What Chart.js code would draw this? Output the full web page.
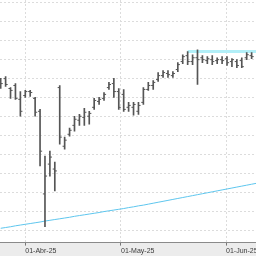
<!DOCTYPE html>
<html>
<head>
<meta charset="utf-8">
<script src="https://cdn.jsdelivr.net/npm/chart.js@4.4.1/dist/chart.umd.min.js"></script>
<style>
  html, body { margin: 0; padding: 0; background: #fff; }
  #wrap { width: 256px; height: 256px; }
</style>
</head>
<body>
<div id="wrap"><canvas id="ohlcChart" width="256" height="256"></canvas></div>
<script>
// daily OHLC bars, one per trading day (index 0 = late March 2025)
const OPEN  = [17.89, 17.99, 17.47, 17.63, 16.90, 17.10, 17.31, 16.95, 16.27, 11.92,
               13.49, 13.23, 17.52, 14.43, 15.06, 15.53, 15.80, 15.95, 16.01, 16.48,
               16.79, 16.95, 17.52, 17.73, 17.31, 17.16, 16.48, 16.48, 16.27, 16.74,
               17.42, 17.63, 17.94, 18.15, 18.26, 18.15, 18.47, 18.89, 19.20, 18.89,
               19.09, 19.09, 18.94, 18.99, 18.94, 18.99, 19.04, 18.89, 18.89, 18.94,
               19.09, 19.20];
const HIGH  = [18.00, 18.10, 17.52, 17.73, 17.31, 17.37, 17.37, 17.00, 16.37, 13.91,
               14.17, 13.60, 17.63, 14.91, 15.38, 16.01, 16.11, 16.42, 16.27, 16.95,
               17.00, 17.26, 17.79, 18.00, 17.47, 17.42, 16.74, 16.74, 16.74, 17.52,
               17.79, 17.89, 18.31, 18.41, 18.41, 18.36, 18.83, 19.25, 19.41, 19.25,
               19.51, 19.20, 19.15, 19.20, 19.09, 19.15, 19.15, 19.04, 18.99, 19.09,
               19.36, 19.36];
const LOW   = [17.47, 17.58, 16.95, 16.90, 16.01, 17.00, 17.05, 16.01, 13.39, 10.19,
               12.86, 12.08, 14.54, 14.28, 14.96, 15.22, 15.53, 15.53, 15.59, 16.37,
               16.63, 16.84, 17.42, 17.00, 16.37, 16.27, 16.27, 16.06, 16.11, 16.63,
               17.37, 17.42, 17.84, 18.05, 18.05, 18.05, 18.36, 18.78, 18.73, 18.73,
               17.68, 18.83, 18.78, 18.73, 18.78, 18.78, 18.68, 18.62, 18.57, 18.57,
               18.99, 19.04];
const CLOSE = [17.73, 17.68, 17.37, 16.95, 16.27, 17.31, 17.26, 16.22, 14.17, 12.86,
               13.86, 13.13, 14.91, 14.75, 15.27, 15.85, 16.01, 16.22, 16.16, 16.84,
               16.90, 17.16, 17.68, 17.31, 16.48, 16.37, 16.58, 16.63, 16.58, 17.42,
               17.63, 17.79, 18.15, 18.31, 18.20, 18.26, 18.73, 19.15, 18.89, 19.09,
               18.99, 18.99, 19.04, 18.89, 18.99, 18.94, 18.83, 18.99, 18.68, 18.62,
               19.25, 19.15];

// long moving average (cyan line)
const MA_LINE = [10.11, 10.15, 10.19, 10.24, 10.28, 10.32, 10.36, 10.40, 10.44, 10.49,
                 10.53, 10.57, 10.61, 10.65, 10.69, 10.74, 10.78, 10.82, 10.86, 10.90,
                 10.94, 10.99, 11.03, 11.07, 11.11, 11.15, 11.20, 11.24, 11.29, 11.33,
                 11.38, 11.43, 11.48, 11.53, 11.58, 11.63, 11.68, 11.73, 11.78, 11.83,
                 11.88, 11.93, 11.98, 12.03, 12.08, 12.13, 12.18, 12.23, 12.28, 12.33,
                 12.38, 12.43, 12.48];

// resistance level drawn from bar 38 to the right edge
const RESIST_LEVEL = 19.42;
const RESIST_RANGE = [38, 52];

const MONTH_TICKS  = [5, 24.45, 45.8];
const MONTH_LABELS = ['01-Abr-25', '01-May-25', '01-Jun-25'];
const Y_GRID = [10, 11, 12, 13, 14, 15, 16, 17, 18, 19, 20, 21, 22];

const X_MIN = -0.14, X_MAX = 51.89;
const Y_MIN = 9.356, Y_MAX = 22.131;

const BAR_COLOR = '#555555';
const GRID_COLOR = '#dcdcdc';

// light grey strip under the time axis
const footerBand = {
  id: 'footerBand',
  beforeDraw(chart) {
    const { ctx, chartArea, width, height } = chart;
    ctx.save();
    ctx.fillStyle = '#ececec';
    ctx.fillRect(0, chartArea.bottom, width, height - chartArea.bottom);
    ctx.restore();
  }
};

const tickSet = (vals, shift) => vals.map((v, i) => ({ x: i + shift, y: v }));

new Chart(document.getElementById('ohlcChart'), {
  type: 'bar',
  data: {
    datasets: [
      {
        type: 'bar',
        data: HIGH.map((h, i) => ({ x: i, y: [LOW[i], h] })),
        backgroundColor: BAR_COLOR,
        borderWidth: 0,
        barThickness: 1,
        order: 0
      },
      {
        type: 'line',
        data: tickSet(OPEN, -0.22),
        showLine: false,
        pointStyle: 'line',
        pointRadius: 1,
        pointBorderWidth: 1,
        pointBorderColor: BAR_COLOR,
        order: 0
      },
      {
        type: 'line',
        data: tickSet(CLOSE, 0.22),
        showLine: false,
        pointStyle: 'line',
        pointRadius: 1,
        pointBorderWidth: 1,
        pointBorderColor: BAR_COLOR,
        order: 0
      },
      {
        type: 'line',
        data: MA_LINE.map((v, i) => ({ x: i, y: v })),
        borderColor: '#5ec6ee',
        borderWidth: 1,
        pointRadius: 0,
        order: 1
      },
      {
        type: 'line',
        data: RESIST_RANGE.map(x => ({ x: x, y: RESIST_LEVEL })),
        borderColor: '#b2eff8',
        borderWidth: 3,
        pointRadius: 0,
        order: 2
      }
    ]
  },
  options: {
    responsive: false,
    animation: false,
    layout: { padding: 0, autoPadding: false },
    plugins: { legend: { display: false }, tooltip: { enabled: false } },
    scales: {
      x: {
        type: 'linear',
        min: X_MIN,
        max: X_MAX,
        offset: false,
        afterBuildTicks: axis => { axis.ticks = MONTH_TICKS.map(v => ({ value: v })); },
        afterFit: axis => { axis.paddingLeft = 0; axis.paddingRight = 0; },
        ticks: {
          callback: (v, i) => MONTH_LABELS[i],
          align: 'start',
          maxRotation: 0,
          autoSkip: false,
          padding: 1,
          color: '#3a3a3a',
          font: { family: 'Liberation Sans', size: 7 }
        },
        grid: {
          color: GRID_COLOR,
          offset: false,
          tickLength: 3,
          tickColor: '#777',
          tickBorderDash: []
        },
        border: { display: true, color: '#8a8a8a', width: 1, dash: [2, 2] }
      },
      y: {
        type: 'linear',
        min: Y_MIN,
        max: Y_MAX,
        afterBuildTicks: axis => { axis.ticks = Y_GRID.map(v => ({ value: v })); },
        afterFit: axis => { axis.width = 0; },
        ticks: { display: false },
        grid: { color: GRID_COLOR, drawTicks: false },
        border: { display: false, dash: [2, 2] }
      }
    }
  },
  plugins: [footerBand]
});
</script>
</body>
</html>
